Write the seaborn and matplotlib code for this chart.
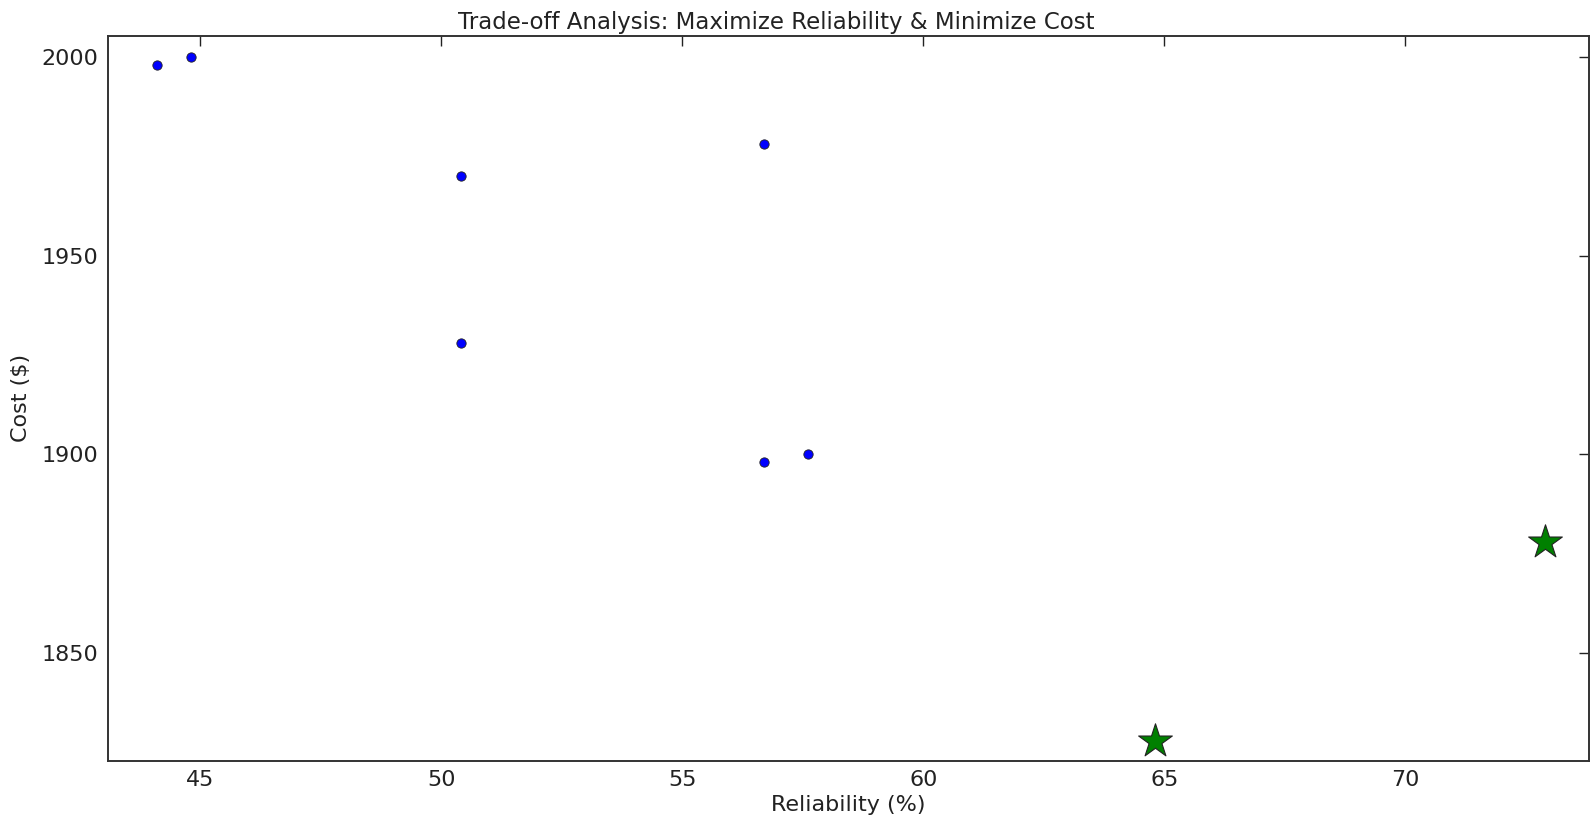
import numpy as np
import pandas as pd
import seaborn as sns
import matplotlib
matplotlib.use('Agg')
import matplotlib.pyplot as plt

# --------------------------------------------------------------------------------------------
# Data
# --------------------------------------------------------------------------------------------
reliability = [44.1, 44.8, 50.4, 50.4, 56.7, 56.7, 57.6]
cost = [1998, 2000, 1970, 1928, 1978, 1898, 1900]

# highlighted (best) solutions
best_reliability = [64.8, 72.9]
best_cost = [1828, 1878]

points = pd.DataFrame({'Reliability': reliability, 'Cost': cost})
best = pd.DataFrame({'Reliability': best_reliability, 'Cost': best_cost})

# --------------------------------------------------------------------------------------------
# Plot
# --------------------------------------------------------------------------------------------
sns.set_style('white')
plt.rcParams['font.family'] = ['DejaVu Sans']
plt.rcParams['font.size'] = 16

fig = plt.figure(figsize=(15.91, 8.22), dpi=100)
ax = fig.add_axes([0.0681, 0.0746, 0.9306, 0.8816])

sns.scatterplot(data=points, x='Reliability', y='Cost', ax=ax, color='#0000ff',
                s=45, edgecolor='#222222', linewidth=0.6, zorder=3)
sns.scatterplot(data=best, x='Reliability', y='Cost', ax=ax, color='#008000', marker='*',
                s=650, edgecolor='#222222', linewidth=0.8, zorder=3)

ax.set_xlim(43.09, 73.81)
ax.set_ylim(1823, 2005.2)
ax.set_xticks([45, 50, 55, 60, 65, 70])
ax.set_yticks([1850, 1900, 1950, 2000])

ax.tick_params(direction='in', length=7, width=1, top=True, right=True,
               labelsize=16, pad=7, colors='#222222', labelcolor='#222222')
for sp in ax.spines.values():
    sp.set_color('#333333')
    sp.set_linewidth(1.4)

ax.set_title('Trade-off Analysis: Maximize Reliability & Minimize Cost', fontsize=16.5,
             x=0.451, pad=5, color='#222222')
ax.set_xlabel('Reliability (%)', fontsize=16, labelpad=3, color='#222222')
ax.set_ylabel('Cost ($)', fontsize=16, labelpad=8, color='#222222')

plt.savefig('out.png', dpi=100)
